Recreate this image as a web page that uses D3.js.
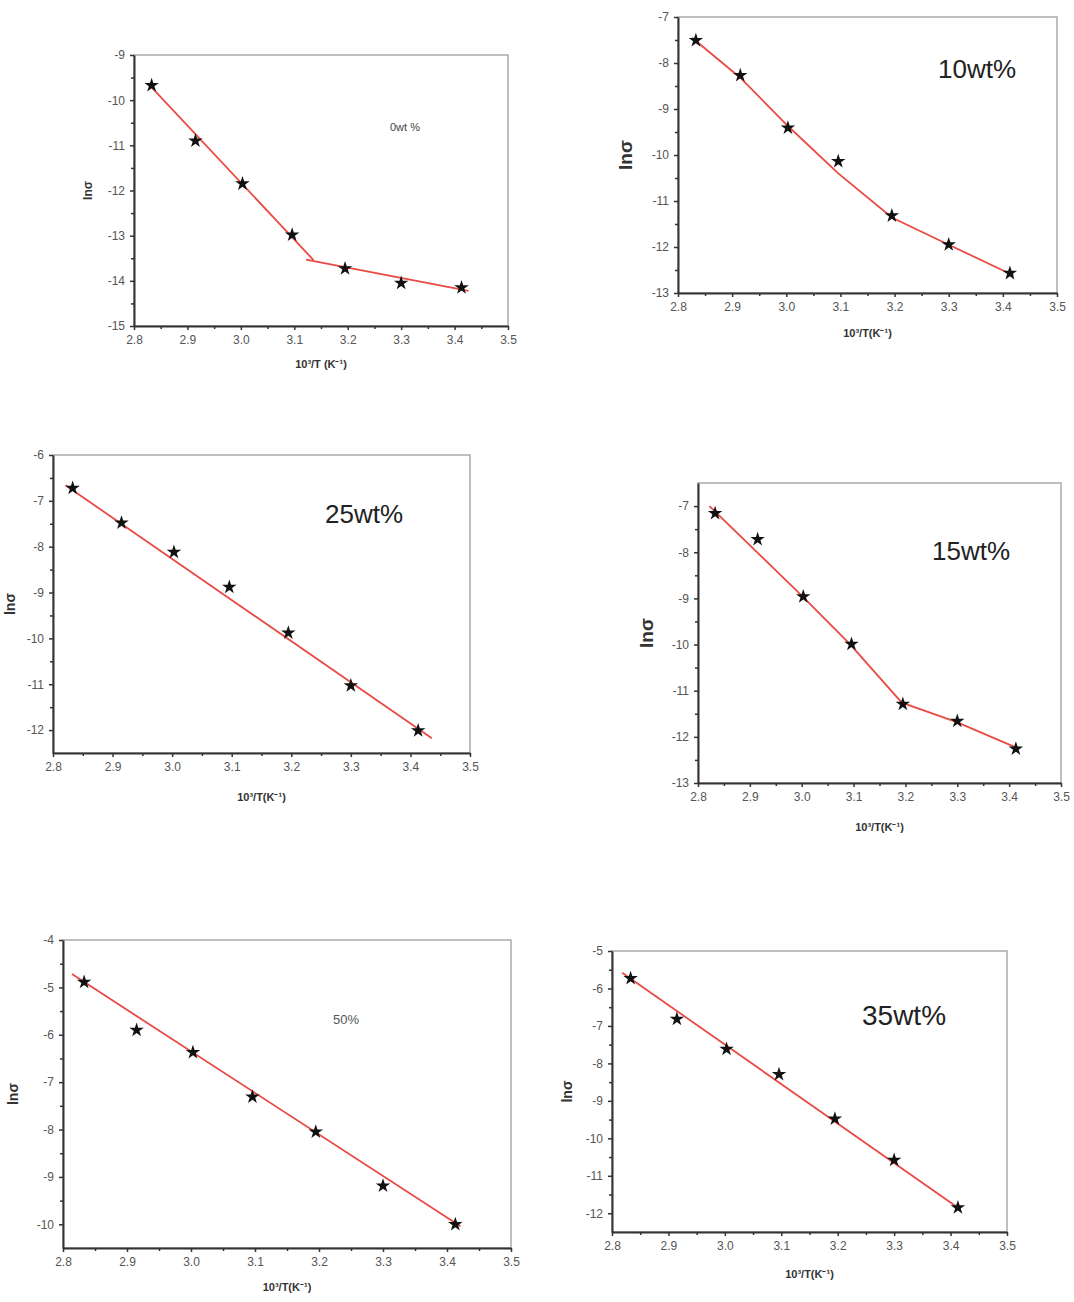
<!DOCTYPE html>
<html lang="en">
<head>
<meta charset="utf-8">
<title>ln sigma vs 1000/T</title>
<script src="https://d3js.org/d3.v7.min.js"></script>
<style>
  body { margin: 0; background: #fff; }
  svg { font-family: Arial, "Liberation Sans", sans-serif; }
  .axis path, .axis line { stroke: #333; }
  .axis text { fill: #555; font-size: 12px; }
</style>
</head>
<body>
<script>

// x values shared by every panel (1000/T)
var invT = [2.833, 2.915, 3.003, 3.096, 3.195, 3.300, 3.413];

// ln(sigma) per panel
var lnS_0 = [-9.67, -10.90, -11.85, -12.98, -13.73, -14.05, -14.15];
var lnS_10 = [-7.51, -8.27, -9.41, -10.14, -11.32, -11.95, -12.57];
var lnS_25 = [-6.72, -7.48, -8.12, -8.88, -9.88, -11.03, -12.01];
var lnS_15 = [-7.16, -7.72, -8.96, -9.99, -11.29, -11.66, -12.26];
var lnS_50 = [-4.89, -5.90, -6.37, -7.31, -8.05, -9.19, -10.00];
var lnS_35 = [-5.73, -6.82, -7.62, -8.29, -9.48, -10.58, -11.85];

// fitted red lines
var fit_0a = [[2.826, -9.63], [3.136, -13.54]];
var fit_0b = [[3.122, -13.53], [3.426, -14.22]];
var fit_10 = [[2.826, -7.45], [2.915, -8.32], [3.003, -9.37], [3.096, -10.40], [3.195, -11.36], [3.300, -11.95], [3.42, -12.62]];
var fit_25 = [[2.821, -6.66], [3.436, -12.18]];
var fit_15 = [[2.822, -7.00], [3.000, -8.94], [3.093, -9.99], [3.193, -11.26], [3.299, -11.68], [3.415, -12.24]];
var fit_50 = [[2.814, -4.72], [3.421, -10.04]];
var fit_35 = [[2.818, -5.58], [3.417, -11.89]];

// labels and axis ranges
var panelLabels = ["0wt %", "10wt%", "25wt%", "15wt%", "50%", "35wt%"];
var xTicks = [2.8, 2.9, 3.0, 3.1, 3.2, 3.3, 3.4, 3.5];
var yDomains = [[-15, -9], [-13, -7], [-12.5, -6], [-13, -6.5], [-10.5, -4], [-12.5, -5]];
var yTicks = [
  [-15, -14, -13, -12, -11, -10, -9],
  [-13, -12, -11, -10, -9, -8, -7],
  [-12, -11, -10, -9, -8, -7, -6],
  [-13, -12, -11, -10, -9, -8, -7],
  [-10, -9, -8, -7, -6, -5, -4],
  [-12, -11, -10, -9, -8, -7, -6, -5]
];
var xTitles = ["10³/T (K⁻¹)", "10³/T(K⁻¹)", "10³/T(K⁻¹)", "10³/T(K⁻¹)", "10³/T(K⁻¹)", "10³/T(K⁻¹)"];

var series = [lnS_0, lnS_10, lnS_25, lnS_15, lnS_50, lnS_35];
var fits = [[fit_0a, fit_0b], [fit_10], [fit_25], [fit_15], [fit_50], [fit_35]];

// layout: box edges, label spot, title offsets
var layout = [
  { l: 134, t: 55, r: 508, b: 326, lx: 256, ly: 76, lsize: 11, lcol: "#444", ysize: 12, yoff: 42, xoff: 42 },
  { l: 678, t: 17, r: 1057, b: 293, lx: 260, ly: 61, lsize: 26, lcol: "#222", ysize: 19, yoff: 46, xoff: 44 },
  { l: 53, t: 455, r: 470, b: 753, lx: 272, ly: 68, lsize: 26, lcol: "#222", ysize: 14, yoff: 38, xoff: 48 },
  { l: 698, t: 483, r: 1061, b: 783, lx: 234, ly: 77, lsize: 26, lcol: "#222", ysize: 19, yoff: 45, xoff: 48 },
  { l: 63, t: 940, r: 511, b: 1248, lx: 270, ly: 84, lsize: 13, lcol: "#555", ysize: 14, yoff: 45, xoff: 43 },
  { l: 612, t: 951, r: 1007, b: 1232, lx: 250, ly: 74, lsize: 28, lcol: "#222", ysize: 14, yoff: 40, xoff: 46 }
];

var svg = d3.select("body").append("svg")
  .attr("width", 1074)
  .attr("height", 1302);

var star = d3.symbol().type(d3.symbolStar).size(65);

layout.forEach(function(p, i) {
  var w = p.r - p.l, h = p.b - p.t;
  var g = svg.append("g").attr("transform", "translate(" + p.l + "," + p.t + ")");

  var x = d3.scaleLinear().domain([2.8, 3.5]).range([0, w]);
  var y = d3.scaleLinear().domain(yDomains[i]).range([h, 0]);

  // grey frame on top/right
  g.append("rect")
    .attr("width", w).attr("height", h)
    .attr("fill", "none").attr("stroke", "#aaa").attr("stroke-width", 1.5);

  // minor ticks
  var minorX = d3.range(2.85, 3.5, 0.1);
  var yd = yDomains[i];
  var minorY = d3.range(Math.ceil(yd[0]) - 0.5, yd[1], 1).filter(function(v) { return v > yd[0]; });

  g.append("g").attr("class", "axis").attr("transform", "translate(0," + h + ")")
    .call(d3.axisBottom(x).tickValues(minorX).tickSize(3).tickFormat(""))
    .select(".domain").remove();
  g.append("g").attr("class", "axis")
    .call(d3.axisLeft(y).tickValues(minorY).tickSize(3).tickFormat(""))
    .select(".domain").remove();

  // major axes
  var xa = g.append("g").attr("class", "axis").attr("transform", "translate(0," + h + ")")
    .call(d3.axisBottom(x).tickValues(xTicks).tickSize(4).tickSizeOuter(0).tickPadding(5).tickFormat(d3.format(".1f")));
  var ya = g.append("g").attr("class", "axis")
    .call(d3.axisLeft(y).tickValues(yTicks[i]).tickSize(4).tickSizeOuter(0).tickPadding(5).tickFormat(d3.format("d")));
  xa.select(".domain").attr("stroke-width", 2);
  ya.select(".domain").attr("stroke-width", 2);
  g.selectAll(".axis line").attr("stroke-width", 1.5);
  g.selectAll(".axis text").text(function() { return d3.select(this).text().replace("−", "-"); });

  // fit lines
  var line = d3.line().x(function(d) { return x(d[0]); }).y(function(d) { return y(d[1]); });
  fits[i].forEach(function(f) {
    g.append("path").attr("d", line(f))
      .attr("fill", "none").attr("stroke", "#ea4a44").attr("stroke-width", 1.8);
  });

  // star points
  g.selectAll(".pt").data(series[i]).enter().append("path")
    .attr("class", "pt")
    .attr("d", star)
    .attr("transform", function(d, k) { return "translate(" + x(invT[k]) + "," + y(d) + ")"; })
    .attr("fill", "#111");

  // panel label
  g.append("text").attr("x", p.lx).attr("y", p.ly)
    .attr("font-size", p.lsize).attr("fill", p.lcol)
    .text(panelLabels[i]);

  // axis titles
  g.append("text")
    .attr("transform", "translate(" + (-p.yoff) + "," + (h / 2) + ") rotate(-90)")
    .attr("text-anchor", "middle")
    .attr("font-size", p.ysize).attr("font-weight", "bold").attr("fill", "#333")
    .text("lnσ");
  g.append("text")
    .attr("x", w / 2).attr("y", h + p.xoff)
    .attr("text-anchor", "middle")
    .attr("font-size", 11).attr("font-weight", "bold").attr("fill", "#333")
    .text(xTitles[i]);
});

</script>
</body>
</html>
